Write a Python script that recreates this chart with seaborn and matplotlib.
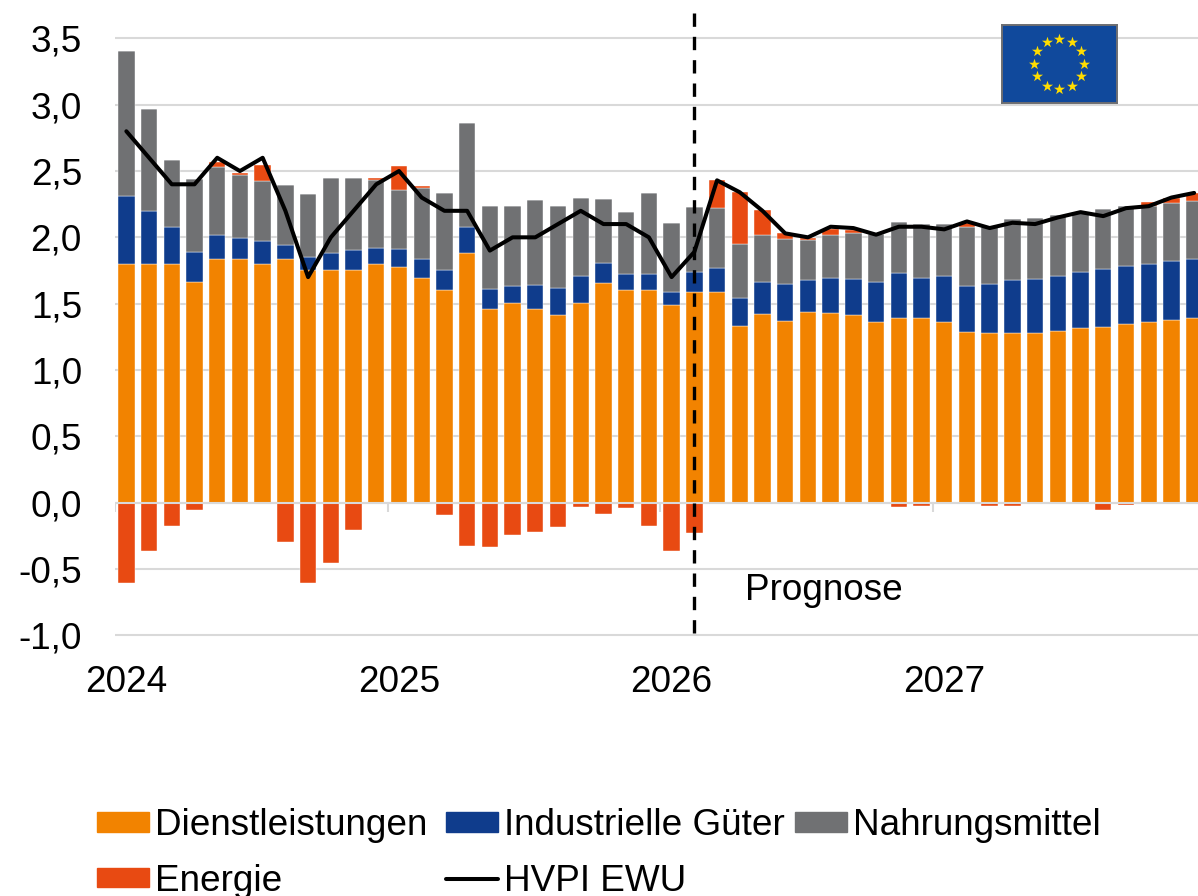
import numpy as np
import pandas as pd
import matplotlib
matplotlib.use("Agg")
import matplotlib.pyplot as plt
from matplotlib.patches import Patch
from matplotlib.lines import Line2D
import seaborn as sns

W, H = 1198, 896
monate = np.arange(48)
dienstleistungen = [1.80,1.80,1.80,1.66,1.84,1.84,1.80,1.84,1.75,1.75,1.75,1.80,
                    1.78,1.69,1.60,1.88,1.46,1.505,1.46,1.415,1.505,1.655,1.60,1.605,
                    1.49,1.585,1.585,1.335,1.42,1.37,1.437,1.43,1.414,1.36,1.395,1.39,
                    1.36,1.285,1.28,1.275,1.275,1.295,1.315,1.325,1.345,1.36,1.375,1.39]
industriegueter = [0.51,0.40,0.275,0.23,0.18,0.155,0.175,0.105,0.105,0.13,0.155,0.12,
                   0.13,0.15,0.15,0.20,0.15,0.13,0.18,0.205,0.205,0.15,0.125,0.12,
                   0.10,0.15,0.185,0.21,0.24,0.275,0.243,0.26,0.271,0.305,0.338,0.30,
                   0.345,0.345,0.365,0.40,0.41,0.415,0.425,0.435,0.44,0.44,0.445,0.445]
nahrungsmittel = [1.095,0.77,0.51,0.55,0.51,0.475,0.45,0.45,0.47,0.565,0.54,0.51,
                  0.45,0.53,0.585,0.785,0.625,0.60,0.64,0.62,0.585,0.485,0.465,0.61,
                  0.515,0.495,0.45,0.405,0.355,0.342,0.302,0.33,0.35,0.36,0.382,0.41,
                  0.395,0.45,0.43,0.46,0.46,0.455,0.45,0.455,0.45,0.44,0.44,0.44]
energie_pos = [0,0,0,0,0.04,0.015,0.12,0,0,0,0,0.015,
               0.175,0.015,0,0,0,0,0,0,0,0,0,0,
               0,0,0.21,0.395,0.19,0.043,0.015,0.04,0.02,0,0,0,
               0,0.03,0,0,0,0,0,0,0,0.025,0.035,0.06]
energie_neg = [-0.605,-0.367,-0.178,-0.06,0,0,0,-0.296,-0.605,-0.455,-0.208,0,
               0,0,-0.093,-0.33,-0.337,-0.244,-0.226,-0.188,-0.035,-0.085,-0.045,-0.178,
               -0.362,-0.229,0,0,0,0,0,0,0,0,-0.035,-0.025,
               -0.015,0,-0.025,-0.027,-0.012,-0.012,0,-0.055,-0.022,0,0,0]
hvpi = [2.8,2.6,2.4,2.4,2.6,2.5,2.6,2.2,1.7,2.0,2.2,2.4,
        2.5,2.3,2.2,2.2,1.9,2.0,2.0,2.1,2.2,2.1,2.1,2.0,
        1.7,1.89,2.43,2.34,2.2,2.03,2.0,2.08,2.07,2.02,2.08,2.08,
        2.06,2.12,2.07,2.11,2.1,2.15,2.19,2.16,2.22,2.235,2.3,2.335]
jahre = ["2024", "2025", "2026", "2027"]
jahr_pos = [0, 12, 24, 36]
y_ticks = [-1.0, -0.5, 0.0, 0.5, 1.0, 1.5, 2.0, 2.5, 3.0, 3.5]
prognose_pos = 25

ORANGE, BLUE, GREY, RED = "#F28300", "#0F3C8C", "#707173", "#E84A12"
GRID = "#D9D9D9"

sns.set_theme(style="white")
plt.rcParams["font.family"] = ["Liberation Sans", "DejaVu Sans"]
FS = 26.6

df = pd.DataFrame({"monat": monate, "d": dienstleistungen, "i": industriegueter,
                   "n": nahrungsmittel, "ep": energie_pos, "en": energie_neg, "h": hvpi})

fig = plt.figure(figsize=(W / 100, H / 100), dpi=100, facecolor="white")
ax_bottom_px = 637.75
ax = fig.add_axes([115 / W, 1 - ax_bottom_px / H, (W - 115) / W, ax_bottom_px / H])

edge = dict(edgecolor="white", linewidth=0.3, zorder=3)
b1 = df["d"].to_numpy()
b2 = b1 + df["i"].to_numpy()
b3 = b2 + df["n"].to_numpy()
common = dict(data=df, x="monat", errorbar=None, saturation=1, width=0.72, ax=ax, legend=False)
sns.barplot(y="d", color=ORANGE, **common, **edge)
sns.barplot(y="i", color=BLUE, bottom=b1, **common, **edge)
sns.barplot(y="n", color=GREY, bottom=b2, **common, **edge)
sns.barplot(y="ep", color=RED, bottom=b3, **common, **edge)
sns.barplot(y="en", color=RED, **common, **edge)
sns.lineplot(data=df, x="monat", y="h", color="black", linewidth=2.9, ax=ax, zorder=5,
             legend=False, errorbar=None, solid_joinstyle="round")

ax.set_xlim(-0.5, 47.17)
ax.set_ylim(-1.02, 3.79)
ax.set_xlabel("")
ax.set_ylabel("")
for s in ax.spines.values():
    s.set_visible(False)

ax.set_yticks(y_ticks)
ax.set_yticklabels([f"{v:.1f}".replace(".", ",") for v in y_ticks], fontsize=FS, color="black")
ax.set_xticks(jahr_pos)
ax.set_xticklabels(jahre, fontsize=FS, color="black")
ax.tick_params(axis="y", length=0, pad=33 * 0.72)
ax.tick_params(axis="x", length=0, pad=19.5)
ax.yaxis.grid(True, color=GRID, linewidth=1.5, zorder=0)
ax.set_axisbelow(True)

ax.axhline(0, color=GRID, linewidth=1.5, zorder=4)
ax.vlines([p - 0.5 for p in jahr_pos], -0.075, 0, color=GRID, linewidth=1.5, zorder=1)
ax.axvline(prognose_pos, ymin=(-0.985 + 1.02) / 4.81, ymax=(3.7 + 1.02) / 4.81, color="black",
           linewidth=2.4, linestyle=(0, (4, 3)), zorder=6)
ax.text(27.23, -0.66, "Prognose", fontsize=FS, color="black", va="center", ha="left")

# EU-Flagge
flag = fig.add_axes([1002 / W, 1 - 103 / H, 115 / W, 78 / H], facecolor="#10499C")
flag.set_xlim(0, 115)
flag.set_ylim(78, 0)
flag.set_xticks([])
flag.set_yticks([])
for s in flag.spines.values():
    s.set_color("#6D6E71")
    s.set_linewidth(1.4)
ang = np.deg2rad(np.arange(0, 360, 30))
sns.scatterplot(x=57 + 25 * np.sin(ang), y=39 - 25 * np.cos(ang), marker="*", s=70,
                color="#FFDD00", linewidth=0, ax=flag, legend=False)

# Legende
lg = dict(loc="upper left", frameon=False, fontsize=FS, borderpad=0, borderaxespad=0,
          handlelength=1.41, handleheight=0.43, handletextpad=0.17, labelspacing=0.56,
          labelcolor="black")
def px(x, y):
    return (x / W, 1 - y / H)
leg1 = fig.legend(handles=[Patch(color=ORANGE, label="Dienstleistungen"), Patch(color=RED, label="Energie")],
                  bbox_to_anchor=px(97, 808), **lg)
leg2 = fig.legend(handles=[Patch(color=BLUE, label="Industrielle Güter"),
                           Line2D([], [], color="black", linewidth=2.9, label="HVPI EWU")],
                  bbox_to_anchor=px(446, 808), **lg)
leg3 = fig.legend(handles=[Patch(color=GREY, label="Nahrungsmittel")],
                  bbox_to_anchor=px(795, 808), **lg)

fig.savefig("out.png", dpi=100, facecolor="white")
